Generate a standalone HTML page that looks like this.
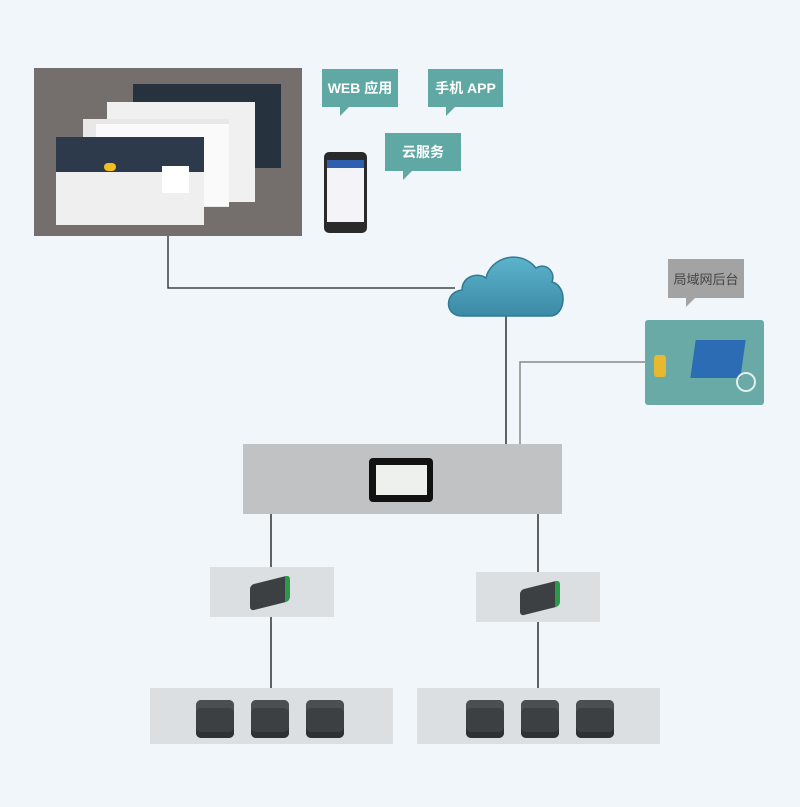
<!DOCTYPE html>
<html><head><meta charset="utf-8"><style>
*{margin:0;padding:0;box-sizing:border-box}
body{width:800px;height:807px;background:#f1f6fb;position:relative;overflow:hidden;font-family:"Liberation Sans","Noto Sans CJK SC",sans-serif}
.a{position:absolute}
.bub{position:absolute;background:#5fa8a3;color:#fff;font-size:14px;font-weight:bold;display:flex;align-items:center;justify-content:center}
.bub:after{content:"";position:absolute;left:18px;bottom:-9px;border-right:9px solid transparent;border-top:9px solid #5fa8a3}
.box{position:absolute;background:#dcdfe1}
.m{position:absolute;width:38px;height:38px;background:#3c4042;border-radius:5px;box-shadow:inset 0 -6px 0 #2e3133,inset 0 8px 0 #4a4f52}
</style></head><body>
<div class="a" style="left:34px;top:68px;width:268px;height:168px;background:#746e6c"></div>
<div class="a" style="left:133px;top:84px;width:148px;height:84px;background:#26323e"></div>
<div class="a" style="left:107px;top:102px;width:148px;height:100px;background:#f0f0f0"></div>
<div class="a" style="left:83px;top:119px;width:146px;height:88px;background:#e8e8e8"></div>
<div class="a" style="left:96px;top:124px;width:133px;height:82px;background:#fafafa"></div>
<div class="a" style="left:56px;top:137px;width:148px;height:35px;background:#2d3a4c"></div>
<div class="a" style="left:56px;top:172px;width:148px;height:53px;background:#efefef"></div>
<div class="a" style="left:162px;top:166px;width:27px;height:27px;background:#fff"></div>
<div class="a" style="left:104px;top:163px;width:12px;height:8px;background:#f0c020;border-radius:5px"></div>
<div class="a" style="left:324px;top:152px;width:43px;height:81px;background:#2a2a2a;border-radius:5px"></div>
<div class="a" style="left:327px;top:160px;width:37px;height:62px;background:#f4f4f8"></div>
<div class="a" style="left:327px;top:160px;width:37px;height:8px;background:#2f5fb0"></div>
<div class="bub" style="left:322px;top:69px;width:76px;height:38px">WEB 应用</div>
<div class="bub" style="left:428px;top:69px;width:75px;height:38px">手机 APP</div>
<div class="bub" style="left:385px;top:133px;width:76px;height:38px">云服务</div>
<div class="a" style="left:668px;top:259px;width:76px;height:39px;background:#a3a3a3;color:#444;font-size:13px;display:flex;align-items:center;justify-content:center">局域网后台</div>
<div class="a" style="left:686px;top:298px;border-right:9px solid transparent;border-top:9px solid #a3a3a3"></div>
<svg class="a" style="left:0;top:0" width="800" height="807">
<polyline points="168,236 168,288 455,288" fill="none" stroke="#222" stroke-width="1.3"/>
<line x1="506" y1="315" x2="506" y2="445" stroke="#111" stroke-width="1.3"/>
<polyline points="520,445 520,362 646,362" fill="none" stroke="#888" stroke-width="1.5"/>
<line x1="271" y1="514" x2="271" y2="567" stroke="#111" stroke-width="1.3"/>
<line x1="271" y1="617" x2="271" y2="688" stroke="#111" stroke-width="1.3"/>
<line x1="538" y1="514" x2="538" y2="572" stroke="#111" stroke-width="1.3"/>
<line x1="538" y1="622" x2="538" y2="688" stroke="#111" stroke-width="1.3"/>
<defs><linearGradient id="cg" x1="0" y1="0" x2="0" y2="1"><stop offset="0" stop-color="#5db3cc"/><stop offset="1" stop-color="#3b8aa6"/></linearGradient></defs>
<path d="M462,316 C444,316 444,292 462,290 C462,276 478,272 486,278 C490,258 520,248 536,268 C546,262 556,272 552,282 C568,286 566,316 550,316 Z" fill="url(#cg)" stroke="#2f7a93" stroke-width="1.5"/>
</svg>
<div class="a" style="left:645px;top:320px;width:119px;height:85px;background:#6aaaa6;border-radius:3px"></div>
<div class="a" style="left:693px;top:340px;width:50px;height:38px;background:#2c6cb5;transform:skewX(-8deg)"></div>
<div class="a" style="left:736px;top:372px;width:20px;height:20px;border:2px solid #e0eeee;border-radius:50%"></div>
<div class="a" style="left:654px;top:355px;width:12px;height:22px;background:#e8b830;border-radius:3px"></div>
<div class="a" style="left:243px;top:444px;width:319px;height:70px;background:#c0c2c4"></div>
<div class="a" style="left:369px;top:458px;width:64px;height:44px;background:#111;border-radius:4px"></div>
<div class="a" style="left:376px;top:465px;width:51px;height:30px;background:#eef0ee"></div>
<div class="box" style="left:210px;top:567px;width:124px;height:50px"></div>
<div class="box" style="left:476px;top:572px;width:124px;height:50px"></div>
<div class="a" style="left:250px;top:580px;width:40px;height:26px;background:#3c4042;border-radius:4px;transform:skewY(-14deg);border-right:5px solid #2a9a4a"></div>
<div class="a" style="left:520px;top:585px;width:40px;height:26px;background:#3c4042;border-radius:4px;transform:skewY(-14deg);border-right:5px solid #2a9a4a"></div>
<div class="box" style="left:150px;top:688px;width:243px;height:56px"></div>
<div class="box" style="left:417px;top:688px;width:243px;height:56px"></div>
<div class="m" style="left:196px;top:700px"></div>
<div class="m" style="left:251px;top:700px"></div>
<div class="m" style="left:306px;top:700px"></div>
<div class="m" style="left:466px;top:700px"></div>
<div class="m" style="left:521px;top:700px"></div>
<div class="m" style="left:576px;top:700px"></div>
</body></html>
